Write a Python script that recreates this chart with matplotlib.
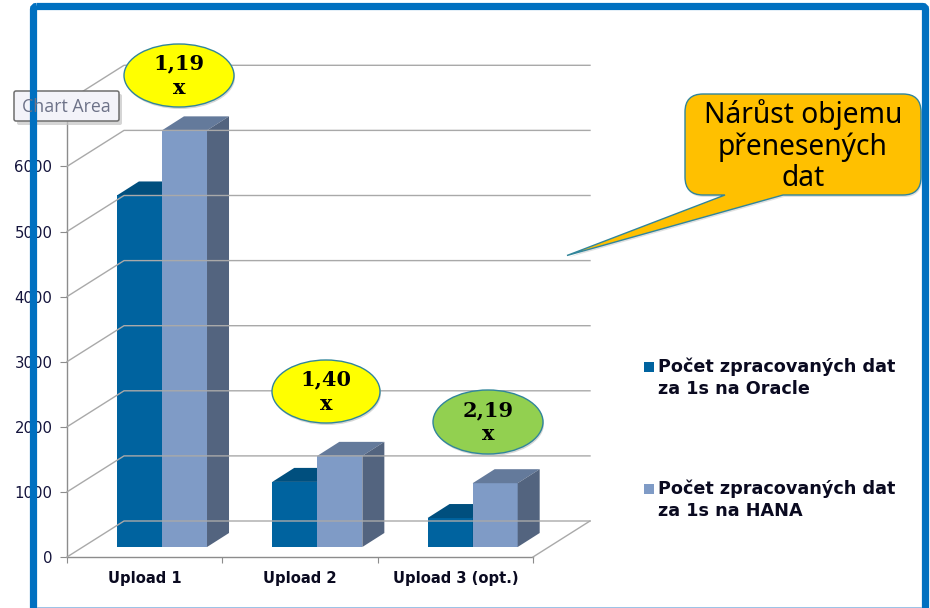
#!/usr/bin/env python3
import matplotlib
matplotlib.use('Agg')
import matplotlib.pyplot as plt
from matplotlib.patches import Ellipse, FancyBboxPatch, Polygon, Rectangle, PathPatch
from matplotlib.path import Path
from matplotlib.lines import Line2D
from matplotlib.transforms import Affine2D, IdentityTransform

categories = ['Upload 1', 'Upload 2', 'Upload 3 (opt.)']
oracle = [5400, 1000, 445]
hana = [6400, 1400, 980]
y_ticks = [0, 1000, 2000, 3000, 4000, 5000, 6000]
y_top = 7000
series_names = ['Počet zpracovaných dat\nza 1s na Oracle', 'Počet zpracovaných dat\nza 1s na HANA']
ratios = ['1,19\nx', '1,40\nx', '2,19\nx']

W, H = 930, 608
GRID = '#a9a9a9'
ORACLE = ('#00639f', '#004f7e', '#004f7e')
HANA = ('#7f9bc6', '#647a9b', '#53647f')
OUTLINE = '#31859b'
TEXT = '#0a0a20'

fig = plt.figure(figsize=(W / 100, H / 100), dpi=100)
ax = fig.add_axes([67 / W, 1 - 557 / H, 466 / W, 7 * 65.1 / H])
ax.set_xlim(0, 3)
ax.set_ylim(0, y_top)
ax.patch.set_visible(False)
for s in ['top', 'right']:
    ax.spines[s].set_visible(False)
for s in ['left', 'bottom']:
    ax.spines[s].set_color('#8c8c8c')
    ax.spines[s].set_linewidth(1.0)

ax.set_yticks(y_ticks)
ax.set_xticks([0, 1, 2, 3])
ax.set_xticklabels([])
ax.set_xticks([0.5, 1.5, 2.5], categories, minor=True, fontweight='bold', fontsize=10.6, color=TEXT)
ax.tick_params(axis='x', which='major', length=4.5, color='#8c8c8c', direction='out')
ax.tick_params(axis='x', which='minor', length=0, pad=10)
ax.tick_params(axis='y', length=5, color='#8c8c8c', labelsize=10.7, labelcolor='#14143c', pad=5.5)


def px(x, v):
    return ax.transData.transform((x, v))


# walls, drawn in screen pixels because of the fake 3d depth
DX, DY = 57, 36
for v in y_ticks + [y_top]:
    a = px(0, v)
    b = a + (DX, DY)
    c = px(3, v) + (DX, DY)
    fig.add_artist(Line2D([a[0], b[0], c[0]], [a[1], b[1], c[1]], transform=IdentityTransform(),
                          color=GRID, lw=1.0, zorder=1))
a = px(3, 0)
fig.add_artist(Line2D([a[0], a[0] + DX], [a[1], a[1] + DY], transform=IdentityTransform(),
                      color=GRID, lw=1.0, zorder=1))

# bars stand part way into the floor
SHIFT_X, SHIFT_Y = 17.3, 10
DEPTH_X, DEPTH_Y = 22, 14
BAR_W = 0.29
front = ax.transData + Affine2D().translate(SHIFT_X, SHIFT_Y)


def draw_bar(x, v, cols, z):
    ax.bar(x, v, BAR_W, align='edge', transform=front, color=cols[0], zorder=z, clip_on=False)
    l, t = px(x, v) + (SHIFT_X, SHIFT_Y)
    r = px(x + BAR_W, v)[0] + SHIFT_X
    b = px(x, 0)[1] + SHIFT_Y
    top = [(l, t), (r, t), (r + DEPTH_X, t + DEPTH_Y), (l + DEPTH_X, t + DEPTH_Y)]
    side = [(r, t), (r + DEPTH_X, t + DEPTH_Y), (r + DEPTH_X, b + DEPTH_Y), (r, b)]
    ax.add_patch(Polygon(top, transform=IdentityTransform(), color=cols[1], lw=0, zorder=z, clip_on=False))
    ax.add_patch(Polygon(side, transform=IdentityTransform(), color=cols[2], lw=0, zorder=z, clip_on=False))


for i in range(len(categories)):
    draw_bar(i + 0.5 - BAR_W, oracle[i], ORACLE, 3)
    draw_bar(i + 0.5, hana[i], HANA, 4)

# overlay in image pixels for the shapes pasted on top of the chart
top = fig.add_axes([0, 0, 1, 1], zorder=5)
top.set_xlim(0, W)
top.set_ylim(H, 0)
top.axis('off')

# legend, key sits on the first line of each label
for name, col, y in zip(series_names, [ORACLE[0], HANA[0]], [367, 489]):
    top.add_patch(Rectangle((644, y - 5), 10, 10, color=col, lw=0))
    top.text(658, y - 10, name, ha='left', va='top', fontweight='bold', fontsize=12.7, color=TEXT, linespacing=1.33)

for (cx, cy, w, h, col), txt in zip([(179, 75.5, 110, 63, '#ffff00'),
                                     (326, 391.5, 108, 63, '#ffff00'),
                                     (488, 422, 110, 64, '#92d050')], ratios):
    top.add_patch(Ellipse((cx + 1, cy + 2), w, h, color='#bbbbbb', alpha=0.6, lw=0))
    top.add_patch(Ellipse((cx, cy), w, h, fc=col, ec=OUTLINE, lw=1.0))
    top.text(cx, cy, txt, ha='center', va='center', family='DejaVu Serif', fontweight='bold',
             fontsize=15, color='black', linespacing=1.25)

# callout: box and pointer as one outline
x0, y0, x1, y1, r = 685, 94, 921, 195, 18
verts = [(x0 + r, y0), (x1 - r, y0), (x1, y0), (x1, y0 + r), (x1, y1 - r), (x1, y1), (x1 - r, y1),
         (783, y1), (567, 255.5), (725, y1), (x0 + r, y1), (x0, y1), (x0, y1 - r), (x0, y0 + r), (x0, y0),
         (x0 + r, y0), (x0 + r, y0)]
codes = [Path.MOVETO, Path.LINETO, Path.CURVE3, Path.CURVE3, Path.LINETO, Path.CURVE3, Path.CURVE3,
         Path.LINETO, Path.LINETO, Path.LINETO, Path.LINETO, Path.CURVE3, Path.CURVE3, Path.LINETO,
         Path.CURVE3, Path.CURVE3, Path.CLOSEPOLY]
shape = Path(verts, codes)
top.add_patch(PathPatch(shape, transform=Affine2D().translate(1, 2) + top.transData, fc='#cccccc', ec='none', alpha=0.6))
top.add_patch(PathPatch(shape, fc='#ffc000', ec=OUTLINE, lw=1.0))
top.text(803, 146, 'Nárůst objemu\npřenesených\ndat', ha='center', va='center', family='Noto Sans',
         fontsize=20.3, color='black', linespacing=1.12)

# tooltip left over from the screenshot
top.add_patch(FancyBboxPatch((17, 94), 105, 31, boxstyle='round,pad=0,rounding_size=2', fc='#c4c4c4', ec='none', alpha=0.7))
top.add_patch(FancyBboxPatch((14, 91), 105, 30, boxstyle='round,pad=0,rounding_size=2', fc='#f3f3f9', ec='#6e6e6e', lw=1.1))
top.text(66, 106.5, 'Chart Area', ha='center', va='center', family='Open Sans', fontsize=12.8, color='#6d7288')

# frame of the slide
top.add_patch(FancyBboxPatch((33.5, 6.5), 892, 640, boxstyle='round,pad=0,rounding_size=3', fc='none',
                             ec='#0070c0', lw=5.2, clip_on=True))
top.add_patch(Rectangle((37, 606.5), 885, 1.5, color='#9dc3e6', lw=0))

fig.savefig('out.png', dpi=100)
